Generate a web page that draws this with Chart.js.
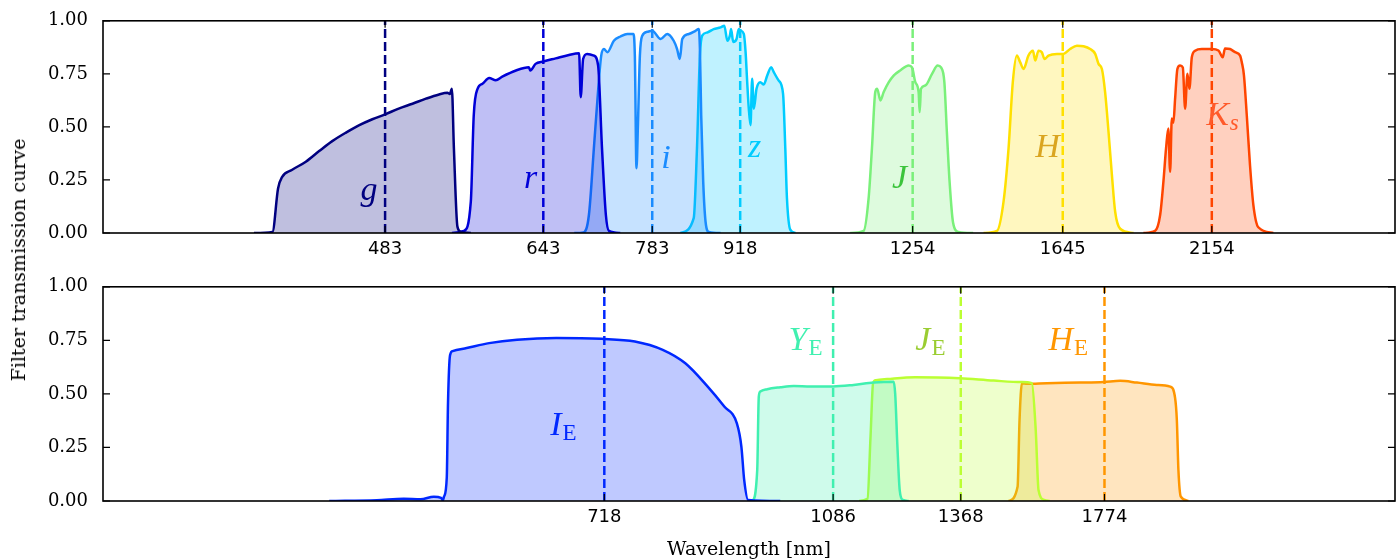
<!DOCTYPE html>
<html>
<head>
<meta charset="utf-8">
<script src="https://cdn.jsdelivr.net/npm/chart.js@4.4.1/dist/chart.umd.min.js"></script>
<style>
  body { margin: 0; background: #fff; width: 1400px; height: 559px; overflow: hidden; position: relative; font-family: "DejaVu Serif", serif; }
  canvas { position: absolute; left: 0; }
  #topChart { top: -5px; }
  #bottomChart { top: 261px; }
  #ylabel { position: absolute; left: 18px; top: 260px; transform: translate(-50%, -50%) rotate(-90deg); font-size: 19px; white-space: nowrap; }
  #xlabel { position: absolute; left: 749px; top: 548px; transform: translate(-50%, -50%); font-size: 19px; white-space: nowrap; }
</style>
</head>
<body>
<canvas id="topChart" width="1400" height="275"></canvas>
<canvas id="bottomChart" width="1400" height="298"></canvas>
<div id="ylabel">Filter transmission curve</div>
<div id="xlabel">Wavelength [nm]</div>
<script>
// --- data (wavelength in nm, transmission 0..1) ---
const yTicks = [0, 0.25, 0.5, 0.75, 1];
const topCenters = [483, 643, 783, 918, 1254, 1645, 2154];
const bottomCenters = [718, 1086, 1368, 1774];

const gWave = [381, 394, 398, 401, 408, 418.5, 428.7, 439, 450, 461, 472, 483, 495, 507.5, 520, 532.5, 540.6, 543, 545, 547, 550.5, 554, 564];
const gTrans = [0, 0.005, 0.21, 0.265, 0.297, 0.336, 0.386, 0.433, 0.473, 0.508, 0.536, 0.559, 0.586, 0.609, 0.633, 0.653, 0.661, 0.655, 0.68, 0.40, 0.03, 0.005, 0];

const rWave = [545, 557, 564, 567, 571, 576, 583, 590, 597, 612, 626.5, 628, 634, 643, 657.5, 673.5, 686, 688, 691, 696, 704.6, 710, 715, 720, 724, 739];
const rTrans = [0, 0.01, 0.148, 0.555, 0.68, 0.703, 0.73, 0.72, 0.737, 0.766, 0.781, 0.766, 0.797, 0.808, 0.823, 0.839, 0.847, 0.64, 0.82, 0.844, 0.836, 0.789, 0.40, 0.086, 0.01, 0];

const iWave = [680, 691.6, 698.3, 704.6, 711, 714, 717.5, 722, 730.5, 739.4, 748.5, 756.6, 758.8, 761, 763, 765.7, 769, 776, 783, 795, 804.5, 814, 819, 823, 826.7, 836.6, 846.7, 851.8, 853.5, 855.5, 858.6, 862.2, 867.4, 886];
const iTrans = [0, 0.003, 0.086, 0.40, 0.72, 0.836, 0.867, 0.852, 0.906, 0.926, 0.938, 0.938, 0.83, 0.305, 0.508, 0.836, 0.93, 0.948, 0.953, 0.914, 0.938, 0.906, 0.867, 0.82, 0.914, 0.938, 0.953, 0.961, 0.867, 0.555, 0.242, 0.055, 0.005, 0];

const zWave = [824, 844, 849, 853.5, 857, 865, 875, 886, 892, 897, 901, 903, 906.5, 912, 915.7, 918, 924, 927, 929.7, 932.4, 935.3, 938, 941, 945.5, 952, 958, 964, 971, 975.5, 984, 992, 996, 999, 1005, 1014.5];
const zTrans = [0, 0.07, 0.40, 0.836, 0.93, 0.945, 0.961, 0.969, 0.977, 0.906, 0.93, 0.961, 0.9, 0.914, 0.961, 0.955, 0.938, 0.852, 0.711, 0.586, 0.508, 0.727, 0.586, 0.68, 0.711, 0.70, 0.742, 0.781, 0.758, 0.719, 0.656, 0.40, 0.164, 0.016, 0];

const jWave = [1120, 1147.7, 1158, 1165, 1172, 1176, 1183, 1190, 1201, 1211.6, 1226, 1245, 1252.6, 1260, 1267.6, 1270, 1273, 1283, 1298.7, 1312, 1320, 1328, 1334, 1340.6, 1349, 1362.6, 1399];
const jTrans = [0, 0.01, 0.164, 0.40, 0.664, 0.68, 0.625, 0.664, 0.711, 0.742, 0.766, 0.789, 0.78, 0.711, 0.664, 0.57, 0.68, 0.695, 0.75, 0.789, 0.78, 0.711, 0.477, 0.242, 0.05, 0.005, 0];

const hWave = [1425.6, 1460.5, 1478, 1491.5, 1503, 1514, 1523, 1532.5, 1546, 1558.7, 1565, 1574.6, 1584, 1591.7, 1603, 1628, 1647, 1667, 1687.7, 1708, 1728.7, 1744.5, 1755, 1765.7, 1776, 1787, 1798, 1808.6, 1825, 1869.5];
const hTrans = [0, 0.01, 0.148, 0.40, 0.711, 0.836, 0.805, 0.773, 0.836, 0.859, 0.813, 0.859, 0.852, 0.82, 0.836, 0.844, 0.844, 0.867, 0.883, 0.88, 0.867, 0.844, 0.797, 0.773, 0.664, 0.477, 0.273, 0.10, 0.02, 0];

const ksWave = [1903.5, 1944, 1962, 1973.5, 1983, 1991, 1997.6, 2003.7, 2009.5, 2015.7, 2024, 2034, 2044, 2052.5, 2061, 2068.5, 2077.5, 2090, 2115.4, 2154, 2180, 2197, 2206, 2226, 2246.6, 2267, 2274, 2283, 2294.6, 2308, 2322, 2343, 2407.5];
const ksTrans = [0, 0.01, 0.086, 0.242, 0.40, 0.492, 0.289, 0.539, 0.52, 0.633, 0.773, 0.789, 0.78, 0.586, 0.75, 0.68, 0.828, 0.859, 0.867, 0.867, 0.86, 0.828, 0.87, 0.867, 0.852, 0.836, 0.805, 0.742, 0.555, 0.32, 0.133, 0.027, 0];

const ieWave = [436.6, 475.8, 499.6, 515, 527.5, 534.5, 536.1, 537.3, 540, 541.2, 543.2, 545.7, 559.8, 583, 613.2, 658.3, 714, 758.8, 798, 831.3, 865.6, 892.3, 912.5, 920, 924.7, 931.2, 987];
const ieTrans = [0, 0.004, 0.01, 0.008, 0.02, 0.015, 0.003, 0.02, 0.11, 0.456, 0.68, 0.70, 0.714, 0.737, 0.753, 0.761, 0.757, 0.745, 0.706, 0.643, 0.534, 0.44, 0.362, 0.253, 0.097, 0.005, 0];

const yeWave = [932.4, 938.6, 946.7, 949.4, 952, 964, 987, 1011.4, 1042.4, 1086, 1127, 1168.6, 1211.6, 1215, 1220, 1225, 1232, 1245];
const yeTrans = [0, 0.003, 0.144, 0.487, 0.511, 0.522, 0.531, 0.537, 0.535, 0.535, 0.542, 0.553, 0.557, 0.50, 0.25, 0.05, 0.005, 0];

const jeWave = [1138, 1155.6, 1162, 1167.4, 1173.5, 1197.5, 1259.7, 1312, 1366, 1451.9, 1527.5, 1555.6, 1566.6, 1574.6, 1590.6, 1606.8];
const jeTrans = [0, 0.01, 0.3, 0.55, 0.564, 0.569, 0.578, 0.577, 0.573, 0.562, 0.555, 0.55, 0.331, 0.05, 0.005, 0];

const heWave = [1491.5, 1516, 1521.4, 1528, 1541.9, 1598.6, 1698, 1770.8, 1825, 1881, 1950, 1997.6, 2015.7, 2022, 2027.8, 2036.6, 2064.7];
const heTrans = [0, 0.066, 0.378, 0.55, 0.547, 0.55, 0.553, 0.556, 0.561, 0.553, 0.542, 0.534, 0.48, 0.378, 0.144, 0.02, 0];

// --- styling ---
function rgba(rgb, a) { return `rgba(${rgb.join(",")},${a})`; }

const topFilters = [
  { wave: gWave, trans: gTrans, rgb: [0, 0, 128] },
  { wave: rWave, trans: rTrans, rgb: [0, 0, 216] },
  { wave: iWave, trans: iTrans, rgb: [26, 140, 255] },
  { wave: zWave, trans: zTrans, rgb: [0, 204, 255] },
  { wave: jWave, trans: jTrans, rgb: [122, 240, 122] },
  { wave: hWave, trans: hTrans, rgb: [255, 224, 0] },
  { wave: ksWave, trans: ksTrans, rgb: [255, 69, 0] },
];
const bottomFilters = [
  { wave: ieWave, trans: ieTrans, rgb: [0, 40, 255] },
  { wave: yeWave, trans: yeTrans, rgb: [64, 240, 176] },
  { wave: jeWave, trans: jeTrans, rgb: [187, 255, 51] },
  { wave: heWave, trans: heTrans, rgb: [255, 150, 0] },
];

// label anchors (left baseline, in data units)
const topLabels = [
  { text: "g", x: 462, y: 0.156, color: "#000080" },
  { text: "r", x: 621, y: 0.211, color: "#0000d8" },
  { text: "i", x: 796, y: 0.305, color: "#1a8cff" },
  { text: "z", x: 931, y: 0.359, color: "#00ccff" },
  { text: "J", x: 1208, y: 0.211, color: "#3cc43c" },
  { text: "H", x: 1565, y: 0.359, color: "#daa520" },
  { text: "K", sub: "s", subItalic: true, x: 2132, y: 0.508, color: "#ff5a2a" },
];
const bottomLabels = [
  { text: "I", sub: "E", x: 651, y: 0.308, color: "#0028ff" },
  { text: "Y", sub: "E", x: 1002, y: 0.706, color: "#40f0b0" },
  { text: "J", sub: "E", x: 1260, y: 0.706, color: "#9acd32" },
  { text: "H", sub: "E", x: 1603, y: 0.706, color: "#ff9600" },
];

function pts(w, t) { return w.map((x, i) => ({ x, y: t[i] })); }

function buildDatasets(filters, centers) {
  const sets = [];
  filters.forEach((f, k) => {
    sets.push({
      data: [{ x: centers[k], y: 0 }, { x: centers[k], y: 1 }],
      borderColor: rgba(f.rgb, 1),
      borderWidth: 2.5,
      borderDash: [9, 4],
      fill: false,
      pointRadius: 0,
      order: 0,
    });
    sets.push({
      data: pts(f.wave, f.trans),
      borderColor: rgba(f.rgb, 1),
      backgroundColor: rgba(f.rgb, 0.25),
      borderWidth: 2.5,
      fill: "origin",
      pointRadius: 0,
      cubicInterpolationMode: "monotone",
      order: 1,
    });
  });
  return sets;
}

const framePlugin = {
  id: "frame",
  afterDatasetsDraw(chart, args, opts) {
    const { ctx, scales: { x, y } } = chart;
    (opts.labels || []).forEach((l) => {
      const px = x.getPixelForValue(l.x);
      const py = y.getPixelForValue(l.y);
      ctx.save();
      ctx.fillStyle = l.color;
      ctx.textBaseline = "alphabetic";
      ctx.font = 'italic 34px "Liberation Serif"';
      ctx.fillText(l.text, px, py);
      if (l.sub) {
        const w = ctx.measureText(l.text).width;
        ctx.font = l.subItalic ? 'italic 23px "Liberation Serif"' : '23px "Liberation Serif"';
        ctx.fillText(l.sub, px + w + 1, py + 5);
      }
      ctx.restore();
    });
  },
  afterDraw(chart) {
    const { ctx, chartArea: a, scales: { x, y } } = chart;
    ctx.save();
    ctx.strokeStyle = "#000";
    ctx.lineWidth = 1.2;
    ctx.beginPath();
    y.ticks.forEach((t) => {
      const py = y.getPixelForValue(t.value);
      ctx.moveTo(a.left, py); ctx.lineTo(a.left + 7, py);
      ctx.moveTo(a.right - 7, py); ctx.lineTo(a.right, py);
    });
    x.ticks.forEach((t) => {
      const px = x.getPixelForValue(t.value);
      ctx.moveTo(px, a.top); ctx.lineTo(px, a.top + 7);
      ctx.moveTo(px, a.bottom - 7); ctx.lineTo(px, a.bottom);
    });
    ctx.stroke();
    ctx.lineWidth = 1.6;
    ctx.strokeRect(a.left, a.top, a.right - a.left, a.bottom - a.top);
    ctx.restore();
  },
};

function makeChart(canvasId, filters, centers, labels, padTop, xHeight) {
  new Chart(document.getElementById(canvasId), {
    type: "line",
    data: { datasets: buildDatasets(filters, centers) },
    plugins: [framePlugin],
    options: {
      responsive: false,
      animation: false,
      events: [],
      layout: { padding: { top: padTop, right: 5, left: 0, bottom: 0 } },
      plugins: {
        legend: { display: false },
        tooltip: { enabled: false },
        frame: { labels },
      },
      scales: {
        x: {
          type: "logarithmic",
          min: 290,
          max: 3000,
          afterBuildTicks: (s) => { s.ticks = centers.map((v) => ({ value: v })); },
          afterFit: (s) => { s.height = xHeight; },
          grid: { display: false, drawTicks: false },
          border: { display: false },
          ticks: {
            autoSkip: false,
            maxRotation: 0,
            padding: 6,
            color: "#000",
            font: { family: "DejaVu Sans", size: 18 },
            callback: (v) => String(v),
          },
        },
        y: {
          min: 0,
          max: 1,
          afterBuildTicks: (s) => { s.ticks = yTicks.map((v) => ({ value: v })); },
          afterFit: (s) => { s.width = 103; },
          grid: { display: false, drawTicks: false },
          border: { display: false },
          ticks: {
            padding: 15,
            color: "#000",
            font: { family: "DejaVu Serif", size: 18 },
            callback: (v) => Number(v).toFixed(2),
          },
        },
      },
    },
  });
}

makeChart("topChart", topFilters, topCenters, topLabels, 20, 37);
makeChart("bottomChart", bottomFilters, bottomCenters, bottomLabels, 17, 58);
</script>
</body>
</html>
